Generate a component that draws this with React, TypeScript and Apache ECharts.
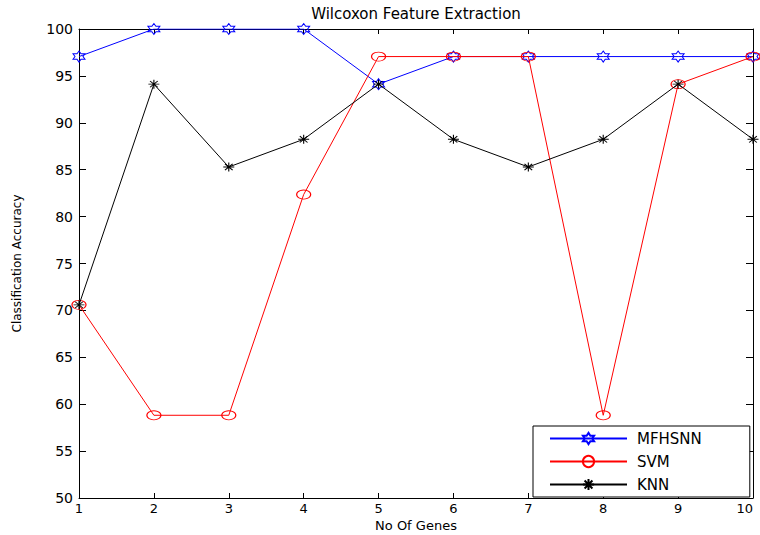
import React, { useEffect, useRef } from "react";
import * as echarts from "echarts";

const genes = [1, 2, 3, 4, 5, 6, 7, 8, 9, 10];
const mfhsnn = [97.06, 100, 100, 100, 94.12, 97.06, 97.06, 97.06, 97.06, 97.06];
const svm = [70.59, 58.82, 58.82, 82.35, 97.06, 97.06, 97.06, 58.82, 94.12, 97.06];
const knn = [70.59, 94.12, 85.29, 88.24, 94.12, 88.24, 85.29, 88.24, 94.12, 88.24];
const seriesNames = ["MFHSNN", "SVM", "KNN"];

const FONT = "DejaVu Sans";

const HEXAGRAM =
  "path://M100,0L128.9,50L186.6,50L157.7,100L186.6,150L128.9,150L100,200L71.1,150L13.4,150L42.3,100L13.4,50L71.1,50Z";
const ASTERISK =
  "path://M50,0L50,100M0,50L100,50M15,15L85,85M15,85L85,15";

export default function App() {
  const ref = useRef<HTMLDivElement>(null);

  useEffect(() => {
    document.documentElement.style.overflow = "hidden";
    document.body.style.margin = "0";
    document.body.style.overflow = "hidden";
    if (!ref.current) return;
    const chart = echarts.init(ref.current, null, { renderer: "svg", width: 760, height: 535 });
    const pairs = (vals: number[]) => genes.map((g, i) => [g, vals[i]]);
    const axisCommon = {
      axisLine: { show: true, lineStyle: { color: "#000", width: 1 } },
      splitLine: { show: false },
    };
    const option: any = {
      animation: false,
      backgroundColor: "#fff",
      title: {
        text: "Wilcoxon Feature Extraction",
        left: 416,
        top: 6,
        padding: 0,
        textAlign: "center",
        textStyle: { fontFamily: FONT, fontSize: 15, fontWeight: "normal", color: "#000" },
      },
      legend: {
        orient: "vertical",
        left: 533,
        top: 426,
        padding: [5, 48, 5, 16],
        itemWidth: 77,
        itemHeight: 14,
        itemGap: 8,
        borderColor: "#000",
        borderWidth: 1,
        borderRadius: 0,
        backgroundColor: "#fff",
        data: seriesNames,
        textStyle: { fontFamily: FONT, fontSize: 15, color: "#000", padding: [0, 0, 0, 5] },
      },
      grid: {
        left: 79,
        right: 7,
        top: 29,
        bottom: 37,
        containLabel: false,
        outerBoundsMode: "none",
      },
      xAxis: [
        {
          ...axisCommon,
          type: "value",
          min: 1,
          max: 10,
          interval: 1,
          position: "bottom",
          name: "No Of Genes",
          nameLocation: "middle",
          nameGap: 21,
          nameMoveOverlap: false,
          nameTextStyle: { fontFamily: FONT, fontSize: 13, color: "#000" },
          axisTick: { show: true, inside: true, length: 5, lineStyle: { color: "#000" } },
          axisLabel: {
            fontFamily: FONT,
            fontSize: 13,
            color: "#000",
            margin: 4,
            alignMaxLabel: "right",
          },
        },
        {
          ...axisCommon,
          type: "value",
          min: 1,
          max: 10,
          interval: 1,
          position: "top",
          axisTick: { show: true, inside: true, length: 5, lineStyle: { color: "#000" } },
          axisLabel: { show: false },
        },
      ],
      yAxis: [
        {
          ...axisCommon,
          type: "value",
          min: 50,
          max: 100,
          interval: 5,
          position: "left",
          name: "Classification Accuracy",
          nameLocation: "middle",
          nameGap: 56,
          nameMoveOverlap: false,
          nameTextStyle: { fontFamily: FONT, fontSize: 12, color: "#000" },
          axisTick: { show: true, inside: true, length: 7, lineStyle: { color: "#000" } },
          axisLabel: { fontFamily: FONT, fontSize: 14, color: "#000", margin: 6 },
        },
        {
          ...axisCommon,
          type: "value",
          min: 50,
          max: 100,
          interval: 5,
          position: "right",
          axisTick: { show: true, inside: true, length: 7, lineStyle: { color: "#000" } },
          axisLabel: { show: false },
        },
      ],
      series: [
        {
          name: "MFHSNN",
          type: "line",
          data: pairs(mfhsnn),
          symbol: HEXAGRAM,
          symbolSize: [12, 11],
          lineStyle: { color: "#0000ff", width: 1 },
          itemStyle: { color: "rgba(0,0,0,0)", borderColor: "#0000ff", borderWidth: 1 },
          z: 2,
        },
        {
          name: "SVM",
          type: "line",
          data: pairs(svm),
          symbol: "circle",
          symbolSize: [14, 9],
          lineStyle: { color: "#ff0000", width: 1 },
          itemStyle: { color: "rgba(0,0,0,0)", borderColor: "#ff0000", borderWidth: 1 },
          z: 3,
        },
        {
          name: "KNN",
          type: "line",
          data: pairs(knn),
          symbol: ASTERISK,
          symbolSize: [11, 9],
          lineStyle: { color: "#000000", width: 1 },
          itemStyle: { color: "rgba(0,0,0,0)", borderColor: "#000000", borderWidth: 1 },
          z: 4,
        },
      ],
    };
    chart.setOption(option);
    return () => chart.dispose();
  }, []);

  return (
    <div
      ref={ref}
      style={{ position: "fixed", left: 0, top: 0, width: 760, height: 535, background: "#fff" }}
    />
  );
}
